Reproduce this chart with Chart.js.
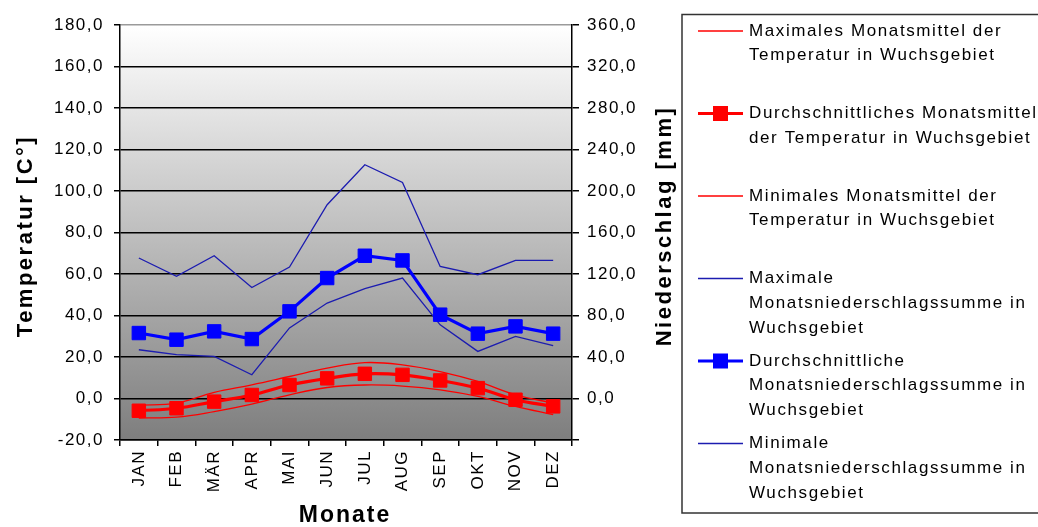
<!DOCTYPE html>
<html>
<head>
<meta charset="utf-8">
<script src="https://cdn.jsdelivr.net/npm/chart.js@4.4.0/dist/chart.umd.min.js"></script>
<style>
  html, body { margin: 0; padding: 0; background: #ffffff; }
  #wrap { width: 1038px; height: 527px; position: relative; }
</style>
</head>
<body>
<div id="wrap"><canvas id="climate" width="1038" height="527"></canvas></div>
<script>
// Monthly climate of the growing area: temperature (left axis) and precipitation (right axis)
const months = ['JAN', 'FEB', 'MÄR', 'APR', 'MAI', 'JUN', 'JUL', 'AUG', 'SEP', 'OKT', 'NOV', 'DEZ'];

const tempMax = [-3.2, -2.2, 3.0, 6.6, 10.6, 14.6, 17.3, 16.2, 13.0, 8.2, 1.8, -2.2];
const tempAvg = [-5.9, -4.7, -1.5, 1.7, 6.5, 9.7, 11.9, 11.4, 8.7, 5.0, -0.6, -3.8];
const tempMin = [-9.4, -9.0, -6.3, -2.7, 1.8, 5.3, 6.5, 6.0, 4.2, 1.0, -3.8, -7.8];

const precipMax = [135.4, 117.7, 137.6, 107.0, 126.7, 186.8, 225.3, 208.3, 127.3, 119.3, 133.1, 133.1];
const precipAvg = [63.1, 56.7, 64.7, 57.3, 84.0, 116.1, 137.6, 133.1, 80.8, 62.5, 69.5, 62.5];
const precipMin = [47.0, 42.2, 40.6, 22.9, 68.0, 92.0, 106.0, 116.1, 71.0, 45.4, 59.9, 50.9];

// Axis ranges and steps
const tempAxis = { min: -20, max: 180, step: 20 };
const precipAxis = { min: -40, max: 360, step: 40 };

// Titles
const tempTitle = 'Temperatur [C°]';
const precipTitle = 'Niederschlag [mm]';
const monthTitle = 'Monate';

// Legend texts, one array of wrapped lines per series
const legendLines = [
  ['Maximales Monatsmittel der', 'Temperatur in Wuchsgebiet'],
  ['Durchschnittliches Monatsmittel', 'der Temperatur in Wuchsgebiet'],
  ['Minimales Monatsmittel der', 'Temperatur in Wuchsgebiet'],
  ['Maximale', 'Monatsniederschlagssumme in', 'Wuchsgebiet'],
  ['Durchschnittliche', 'Monatsniederschlagssumme in', 'Wuchsgebiet'],
  ['Minimale', 'Monatsniederschlagssumme in', 'Wuchsgebiet']
];

const FONT = "'Liberation Sans', Arial, sans-serif";
const RED = '#ff0000';
const BLUE = '#0000ff';
const NAVY = '#1c1cb0';

const fmt = v => v.toFixed(1).replace('.', ',');

// Plot background: white to grey gradient over the chart area
const plotBackground = {
  id: 'plotBackground',
  beforeDraw(chart) {
    const { ctx, chartArea: a } = chart;
    ctx.letterSpacing = '1.5px';
    const g = ctx.createLinearGradient(0, a.top, 0, a.bottom);
    g.addColorStop(0, '#ffffff');
    g.addColorStop(1, '#7e7e7e');
    ctx.save();
    ctx.fillStyle = g;
    ctx.fillRect(a.left, a.top, a.right - a.left, a.bottom - a.top);
    ctx.restore();
  }
};

// Axis titles and the boxed legend on the right
const decorations = {
  id: 'decorations',
  afterDraw(chart) {
    const { ctx } = chart;
    ctx.save();
    ctx.fillStyle = '#000';
    ctx.textAlign = 'center';
    ctx.textBaseline = 'middle';

    ctx.font = `bold 22px ${FONT}`;
    ctx.letterSpacing = '2.5px';
    ctx.save();
    ctx.translate(26, 236);
    ctx.rotate(-Math.PI / 2);
    ctx.fillText(tempTitle, 0, 0);
    ctx.restore();

    ctx.save();
    ctx.translate(665, 226);
    ctx.rotate(-Math.PI / 2);
    ctx.fillText(precipTitle, 0, 0);
    ctx.restore();

    ctx.font = `bold 23px ${FONT}`;
    ctx.letterSpacing = '2px';
    ctx.fillText(monthTitle, 345, 516);

    // Legend frame
    ctx.strokeStyle = '#333';
    ctx.lineWidth = 1.5;
    ctx.strokeRect(682, 14.5, 420, 498.5);

    ctx.font = `17px ${FONT}`;
    ctx.letterSpacing = '1.6px';
    ctx.textAlign = 'left';
    chart.data.datasets.forEach((ds, i) => {
      const y0 = 31 + i * 82.5;
      ctx.strokeStyle = ds.borderColor;
      ctx.lineWidth = ds.borderWidth;
      ctx.beginPath();
      ctx.moveTo(698, y0);
      ctx.lineTo(743, y0);
      ctx.stroke();
      if (ds.pointRadius > 0) {
        ctx.fillStyle = ds.pointBackgroundColor;
        ctx.fillRect(713, y0 - 7.5, 15, 15);
      }
      ctx.fillStyle = '#000';
      legendLines[i].forEach((line, k) => {
        ctx.fillText(line, 749, y0 + k * 24.7);
      });
    });
    ctx.restore();
  }
};

const thin = (label, data, color, axis, tension) => ({
  label, data, yAxisID: axis,
  borderColor: color, borderWidth: 1.3,
  pointRadius: 0, pointHoverRadius: 0,
  tension, fill: false
});
const thick = (label, data, color, axis, tension) => ({
  label, data, yAxisID: axis,
  borderColor: color, borderWidth: 3.2,
  pointStyle: 'rect', pointRadius: 9.5, pointBorderWidth: 1,
  pointBackgroundColor: color, pointBorderColor: color,
  tension, fill: false
});

new Chart(document.getElementById('climate'), {
  type: 'line',
  data: {
    labels: months,
    datasets: [
      thin(legendLines[0].join(' '), tempMax, RED, 'y', 0.4),
      thick(legendLines[1].join(' '), tempAvg, RED, 'y', 0.4),
      thin(legendLines[2].join(' '), tempMin, RED, 'y', 0.4),
      thin(legendLines[3].join(' '), precipMax, NAVY, 'y2', 0),
      thick(legendLines[4].join(' '), precipAvg, BLUE, 'y2', 0),
      thin(legendLines[5].join(' '), precipMin, NAVY, 'y2', 0)
    ]
  },
  options: {
    responsive: false,
    animation: false,
    devicePixelRatio: 1,
    layout: { padding: { left: 0, right: 366, top: 25, bottom: 0 } },
    plugins: { legend: { display: false }, tooltip: { enabled: false } },
    scales: {
      x: {
        offset: true,
        grid: { offset: true, drawOnChartArea: false, tickLength: 6, color: '#000', lineWidth: 1.5 },
        border: { color: '#000', width: 1.5 },
        ticks: { minRotation: 90, maxRotation: 90, autoSkip: false, padding: 4, color: '#000', font: { family: FONT, size: 17 } },
        afterFit: s => { s.height = 87; }
      },
      y: {
        position: 'left',
        min: tempAxis.min, max: tempAxis.max,
        ticks: { stepSize: tempAxis.step, padding: 10, color: '#000', font: { family: FONT, size: 17 }, callback: v => fmt(v) },
        grid: {
          color: c => (c.tick && c.tick.value === tempAxis.max) ? '#9a9a9a' : '#000',
          tickColor: '#000', lineWidth: 1.5, tickLength: 6
        },
        border: { color: '#000', width: 1.5 },
        afterFit: s => { s.width = 120; }
      },
      y2: {
        position: 'right',
        min: precipAxis.min, max: precipAxis.max,
        ticks: { stepSize: precipAxis.step, padding: 8, color: '#000', font: { family: FONT, size: 17 },
                 callback: v => v < 0 ? '' : fmt(v) },
        grid: { drawOnChartArea: false, color: '#000', lineWidth: 1.5, tickLength: 7 },
        border: { color: '#000', width: 1.5 },
        afterFit: s => { s.width = 100; }
      }
    }
  },
  plugins: [plotBackground, decorations]
});
</script>
</body>
</html>
